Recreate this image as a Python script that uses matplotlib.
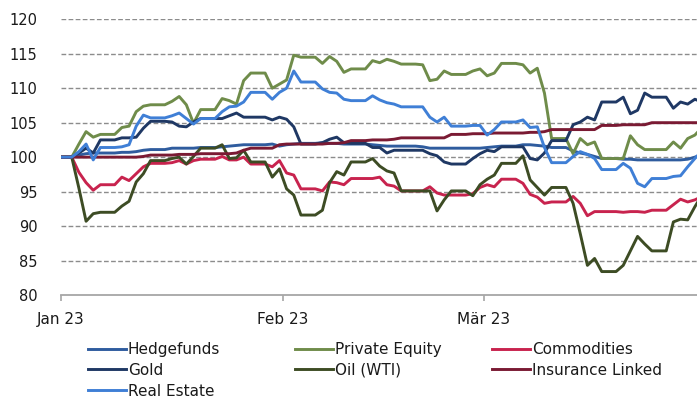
import matplotlib
matplotlib.use("Agg")
import matplotlib.pyplot as plt
import matplotlib.dates as mdates
from matplotlib.lines import Line2D
import pandas as pd
import numpy as np

plt.rcParams['font.family'] = ['DejaVu Sans']

# daily calendar values (weekends carry Friday's level), 31 Dec 2022 .. 31 Mar 2023
dates = pd.date_range("2022-12-31", "2023-03-31", freq="D")

hedgefunds = [100, 100,
    100, 100.3, 100.5, 100.6, 100.6, 100.6, 100.6,
    100.7, 100.7, 100.8, 101.0, 101.1, 101.1, 101.1,
    101.3, 101.3, 101.3, 101.3, 101.4, 101.4, 101.4,
    101.5, 101.6, 101.7, 101.8, 101.8, 101.8, 101.8,
    101.9, 101.6, 101.8, 101.9, 102.0, 102.0, 102.0,
    102.1, 102.0, 102.0, 101.9, 101.9, 101.9, 101.9,
    101.8, 101.7, 101.6, 101.6, 101.6, 101.6, 101.6,
    101.5, 101.3, 101.3, 101.3, 101.3, 101.3, 101.3,
    101.3, 101.3, 101.4, 101.5, 101.6, 101.6, 101.6,
    101.8, 101.8, 101.7, 101.6, 101.4, 101.4, 101.4,
    100.9, 100.6, 100.4, 100.1, 99.8, 99.8, 99.8,
    99.7, 99.7, 99.6, 99.6, 99.6, 99.6, 99.6,
    99.6, 99.6, 99.7, 100.0, 100.4]

private_equity = [100, 100,
    100, 101.9, 103.7, 102.9, 103.3, 103.3, 103.3,
    104.3, 104.5, 106.6, 107.4, 107.6, 107.6, 107.6,
    108.1, 108.8, 107.6, 104.9, 106.9, 106.9, 106.9,
    108.5, 108.2, 107.7, 111.1, 112.2, 112.2, 112.2,
    110.0, 110.6, 111.2, 114.8, 114.5, 114.5, 114.5,
    113.6, 114.6, 113.9, 112.3, 112.8, 112.8, 112.8,
    114.0, 113.7, 114.2, 113.9, 113.5, 113.5, 113.5,
    113.4, 111.1, 111.3, 112.5, 112.0, 112.0, 112.0,
    112.5, 112.8, 111.8, 112.2, 113.6, 113.6, 113.6,
    113.4, 112.2, 112.9, 109.3, 102.7, 102.7, 102.7,
    100.5, 102.7, 101.8, 102.2, 99.8, 99.8, 99.8,
    99.8, 103.1, 101.8, 101.1, 101.1, 101.1, 101.1,
    102.2, 101.3, 102.7, 103.2, 104.3]

commodities = [100, 100,
    100, 97.8, 96.3, 95.2, 96.0, 96.0, 96.0,
    97.1, 96.6, 97.6, 98.6, 99.1, 99.1, 99.1,
    99.2, 99.5, 99.0, 99.5, 99.7, 99.7, 99.7,
    100.1, 99.6, 99.6, 100.0, 99.0, 99.0, 99.0,
    98.6, 99.5, 97.7, 97.4, 95.4, 95.4, 95.4,
    95.1, 96.4, 96.3, 96.0, 96.9, 96.9, 96.9,
    96.9, 97.1, 96.0, 95.8, 95.1, 95.1, 95.1,
    95.1, 95.7, 94.8, 94.5, 94.5, 94.5, 94.5,
    94.7, 95.6, 96.0, 95.7, 96.8, 96.8, 96.8,
    96.2, 94.6, 94.2, 93.3, 93.5, 93.5, 93.5,
    94.3, 93.3, 91.5, 92.1, 92.1, 92.1, 92.1,
    92.0, 92.1, 92.1, 92.0, 92.3, 92.3, 92.3,
    93.1, 93.9, 93.5, 93.8, 94.3]

gold = [100, 100,
    100, 100.6, 101.3, 100.6, 102.5, 102.5, 102.5,
    102.8, 102.8, 102.9, 104.2, 105.2, 105.2, 105.2,
    105.1, 104.5, 104.4, 105.1, 105.6, 105.6, 105.6,
    105.6, 106.0, 106.4, 105.8, 105.8, 105.8, 105.8,
    105.4, 105.8, 105.5, 104.4, 101.9, 101.9, 101.9,
    102.1, 102.6, 102.9, 102.1, 102.0, 102.0, 102.0,
    101.4, 101.4, 100.6, 101.0, 101.0, 101.0, 101.0,
    101.0, 100.5, 100.2, 99.3, 99.0, 99.0, 99.0,
    99.8, 100.5, 101.0, 100.8, 101.5, 101.5, 101.5,
    101.5, 99.8, 99.6, 100.6, 102.4, 102.4, 102.4,
    104.7, 105.1, 105.8, 105.4, 108.0, 108.0, 108.0,
    108.7, 106.3, 106.8, 109.3, 108.7, 108.7, 108.7,
    107.1, 108.0, 107.7, 108.4, 108.0]

oil_wti = [100, 100,
    100, 95.5, 90.7, 91.8, 92.0, 92.0, 92.0,
    92.9, 93.6, 96.4, 97.6, 99.5, 99.5, 99.5,
    99.8, 100.0, 99.0, 100.1, 101.3, 101.3, 101.3,
    101.8, 99.8, 99.9, 101.0, 99.3, 99.3, 99.3,
    97.1, 98.3, 95.4, 94.5, 91.6, 91.6, 91.6,
    92.3, 96.3, 97.9, 97.4, 99.3, 99.3, 99.3,
    99.8, 98.7, 98.0, 97.7, 95.1, 95.1, 95.1,
    95.1, 95.1, 92.2, 93.8, 95.1, 95.1, 95.1,
    94.4, 96.0, 96.8, 97.4, 99.1, 99.1, 99.1,
    100.2, 96.7, 95.6, 94.5, 95.6, 95.6, 95.6,
    93.3, 88.9, 84.3, 85.3, 83.4, 83.4, 83.4,
    84.3, 86.4, 88.5, 87.4, 86.4, 86.4, 86.4,
    90.6, 91.0, 90.9, 92.8, 94.5]

insurance_linked = [100, 100,
    100, 100, 100, 100, 100, 100, 100,
    100, 100, 100, 100.1, 100.3, 100.3, 100.3,
    100.3, 100.4, 100.4, 100.4, 100.5, 100.5, 100.5,
    100.5, 100.5, 100.6, 101.0, 101.3, 101.3, 101.3,
    101.3, 101.8, 101.9, 101.9, 101.9, 101.9, 101.9,
    101.9, 102.0, 102.0, 102.1, 102.4, 102.4, 102.4,
    102.5, 102.5, 102.5, 102.6, 102.8, 102.8, 102.8,
    102.8, 102.8, 102.8, 102.8, 103.3, 103.3, 103.3,
    103.4, 103.4, 103.4, 103.5, 103.5, 103.5, 103.5,
    103.5, 103.6, 103.6, 103.7, 104.0, 104.0, 104.0,
    104.0, 104.0, 104.0, 104.0, 104.6, 104.6, 104.6,
    104.7, 104.7, 104.7, 104.7, 105.0, 105.0, 105.0,
    105.0, 105.0, 105.0, 105.0, 105.0]

real_estate = [100, 100,
    100, 100.8, 101.9, 99.6, 101.4, 101.4, 101.4,
    101.5, 101.8, 104.5, 106.1, 105.7, 105.7, 105.7,
    106.0, 106.4, 105.6, 104.8, 105.6, 105.6, 105.6,
    106.6, 107.3, 107.4, 108.0, 109.4, 109.4, 109.4,
    108.4, 109.4, 110.0, 112.5, 110.9, 110.9, 110.9,
    109.9, 109.4, 109.3, 108.4, 108.2, 108.2, 108.2,
    108.9, 108.3, 107.9, 107.7, 107.3, 107.3, 107.3,
    107.3, 105.8, 105.1, 105.8, 104.5, 104.5, 104.5,
    104.6, 104.6, 103.2, 104.0, 105.1, 105.1, 105.1,
    105.4, 104.3, 104.4, 101.4, 99.2, 99.2, 99.2,
    100.1, 100.8, 100.4, 99.8, 98.2, 98.2, 98.2,
    99.1, 98.4, 96.2, 95.7, 96.9, 96.9, 96.9,
    97.2, 97.3, 98.6, 99.8, 100.9]

series_names = ["Hedgefunds", "Private Equity", "Commodities", "Gold",
                "Oil (WTI)", "Insurance Linked", "Real Estate"]
series_values = [hedgefunds, private_equity, commodities, gold,
                 oil_wti, insurance_linked, real_estate]
colors = ["#2F5C9E", "#6F8C4A", "#C8234E", "#1F3864",
          "#3D4C24", "#7A1A33", "#3F7FD6"]

tick_dates = ["2023-01-01", "2023-02-01", "2023-03-01"]
tick_labels = ["Jan 23", "Feb 23", "Mär 23"]
y_ticks = [80, 85, 90, 95, 100, 105, 110, 115, 120]

W, H = 697, 401
fig = plt.figure(figsize=(W / 100, H / 100), dpi=100)
ax = fig.add_axes([61 / W, 1 - 295 / H, 1 - 61 / W, (295 - 19.3) / H])

x = dates + pd.Timedelta(hours=12)
lines = {}
for name, vals, c in zip(series_names, series_values, colors):
    ln, = ax.plot(x, vals, color=c, lw=2.1, solid_joinstyle="round",
                  solid_capstyle="round", label=name)
    lines[name] = ln

ax.set_ylim(80, 120)
ax.set_yticks(y_ticks)
ax.set_xlim(pd.Timestamp("2023-01-01"), pd.Timestamp("2023-01-01") + pd.Timedelta(days=88.8))
ax.set_xticks(pd.to_datetime(tick_dates))
ax.set_xticklabels(tick_labels)

for yv in y_ticks[1:]:
    ax.axhline(yv, color="#8C8C8C", lw=1.0, ls=(0, (3.4, 1.7)), zorder=0)

for s in ["top", "right", "left"]:
    ax.spines[s].set_visible(False)
ax.spines["bottom"].set_color("#A6A6A6")
ax.spines["bottom"].set_linewidth(1.3)
ax.tick_params(axis="y", length=0, pad=17, labelsize=10.5, labelcolor="#1a1a1a")
ax.tick_params(axis="x", length=4, width=1.2, color="#A6A6A6", pad=8,
               labelsize=11, labelcolor="#1a1a1a")

columns = [["Hedgefunds", "Gold", "Real Estate"],
           ["Private Equity", "Oil (WTI)"],
           ["Commodities", "Insurance Linked"]]
col_x = [88, 295, 492]
for cx, col in zip(col_x, columns):
    handles = [Line2D([], [], color=lines[n].get_color(), lw=2.1) for n in col]
    fig.legend(handles, col, loc="upper left",
               bbox_to_anchor=(cx / W, 1 - 342 / H), frameon=False,
               fontsize=11, handlelength=2.5, handletextpad=0.1,
               borderpad=0, borderaxespad=0, labelspacing=0.38,
               labelcolor="#1a1a1a")

fig.savefig("out.png", dpi=100)
